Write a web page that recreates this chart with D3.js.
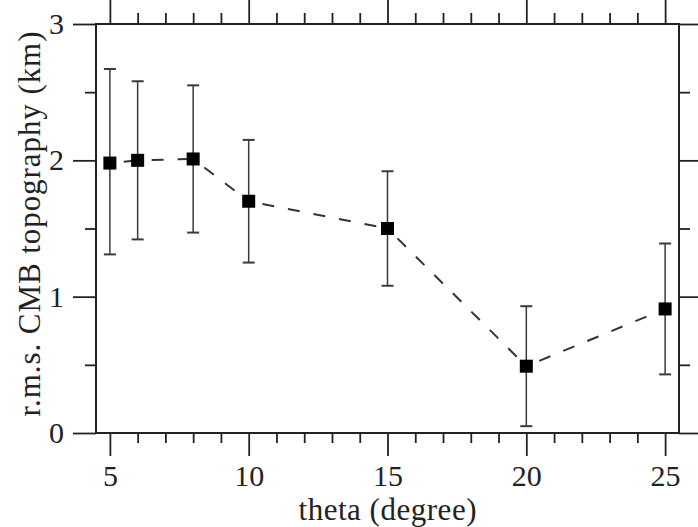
<!DOCTYPE html>
<html>
<head>
<meta charset="utf-8">
<script src="https://cdn.jsdelivr.net/npm/d3@7"></script>
<style>
  html, body { margin: 0; padding: 0; background: #fff; }
  svg { display: block; }
</style>
</head>
<body>
<script>
// Angular width theta (degrees) and r.m.s. CMB topography (km) with error bounds
const theta = [5, 6, 8, 10, 15, 20, 25];
const rms = [1.98, 2.00, 2.01, 1.70, 1.50, 0.49, 0.91];
const rmsUpper = [2.67, 2.58, 2.55, 2.15, 1.92, 0.93, 1.39];
const rmsLower = [1.31, 1.42, 1.47, 1.25, 1.08, 0.05, 0.43];

const xMajorTicks = [5, 10, 15, 20, 25];
const xMinorTicks = [6, 7, 8, 9, 11, 12, 13, 14, 16, 17, 18, 19, 21, 22, 23, 24];
const yMajorTicks = [0, 1, 2, 3];
const yMinorTicks = [0.5, 1.5, 2.5];

const W = 698, H = 527;
const frame = { left: 96, right: 679, top: 24, bottom: 433 };

const svg = d3.select("body").append("svg")
  .attr("width", W).attr("height", H);

const x = d3.scaleLinear().domain([4.5, 25.5]).range([frame.left, frame.right]);
const y = d3.scaleLinear().domain([0, 3]).range([frame.bottom, frame.top]);

const ink = "#222";
const fontFamily = "Liberation Serif";

function styleAxis(g, labelled) {
  g.attr("font-family", fontFamily).attr("font-size", 30);
  g.select(".domain").remove();
  g.selectAll(".tick line").attr("stroke", ink).attr("stroke-width", 1.8);
  g.selectAll(".tick text").attr("fill", "#222");
  if (!labelled) g.selectAll(".tick text").remove();
}

// bottom axis
svg.append("g").attr("transform", `translate(0,${frame.bottom})`)
  .call(d3.axisBottom(x).tickValues(xMajorTicks).tickSize(23).tickPadding(9).tickFormat(d3.format("d")))
  .call(g => styleAxis(g, true));
svg.append("g").attr("transform", `translate(0,${frame.bottom})`)
  .call(d3.axisBottom(x).tickValues(xMinorTicks).tickSize(10).tickFormat(""))
  .call(g => styleAxis(g, false));

// top axis
svg.append("g").attr("transform", `translate(0,${frame.top})`)
  .call(d3.axisTop(x).tickValues(xMajorTicks).tickSize(24).tickFormat(""))
  .call(g => styleAxis(g, false));
svg.append("g").attr("transform", `translate(0,${frame.top})`)
  .call(d3.axisTop(x).tickValues(xMinorTicks).tickSize(11).tickFormat(""))
  .call(g => styleAxis(g, false));

// left axis
svg.append("g").attr("transform", `translate(${frame.left},0)`)
  .call(d3.axisLeft(y).tickValues(yMajorTicks).tickSize(23).tickPadding(9).tickFormat(d3.format("d")))
  .call(g => styleAxis(g, true));
svg.append("g").attr("transform", `translate(${frame.left},0)`)
  .call(d3.axisLeft(y).tickValues(yMinorTicks).tickSize(11).tickFormat(""))
  .call(g => styleAxis(g, false));

// right axis
svg.append("g").attr("transform", `translate(${frame.right},0)`)
  .call(d3.axisRight(y).tickValues(yMajorTicks).tickSize(23).tickFormat(""))
  .call(g => styleAxis(g, false));
svg.append("g").attr("transform", `translate(${frame.right},0)`)
  .call(d3.axisRight(y).tickValues(yMinorTicks).tickSize(11).tickFormat(""))
  .call(g => styleAxis(g, false));

// plot frame
svg.append("rect")
  .attr("x", frame.left).attr("y", frame.top)
  .attr("width", frame.right - frame.left).attr("height", frame.bottom - frame.top)
  .attr("fill", "none").attr("stroke", ink).attr("stroke-width", 2);

const points = theta.map((t, i) => ({ t, v: rms[i], hi: rmsUpper[i], lo: rmsLower[i] }));

// dashed connecting segments, each starting with a gap off the marker
const segs = d3.pairs(points);
svg.append("g").selectAll("line").data(segs).join("line")
  .attr("x1", d => x(d[0].t)).attr("y1", d => y(d[0].v))
  .attr("x2", d => x(d[1].t)).attr("y2", d => y(d[1].v))
  .attr("stroke", "#333")
  .attr("stroke-width", 2)
  .attr("stroke-dasharray", "12,14")
  .attr("stroke-dashoffset", -14);

// error bars
const capHalf = 6;
const eb = svg.append("g").attr("stroke", "#3a3a3a").attr("stroke-width", 1.5);
eb.selectAll("line.stem").data(points).join("line").attr("class", "stem")
  .attr("x1", d => x(d.t)).attr("x2", d => x(d.t))
  .attr("y1", d => y(d.hi)).attr("y2", d => y(d.lo));
eb.selectAll("line.capHi").data(points).join("line").attr("class", "capHi")
  .attr("x1", d => x(d.t) - capHalf).attr("x2", d => x(d.t) + capHalf)
  .attr("y1", d => y(d.hi)).attr("y2", d => y(d.hi))
  .attr("stroke-width", 2);
eb.selectAll("line.capLo").data(points).join("line").attr("class", "capLo")
  .attr("x1", d => x(d.t) - capHalf).attr("x2", d => x(d.t) + capHalf)
  .attr("y1", d => y(d.lo)).attr("y2", d => y(d.lo))
  .attr("stroke-width", 2);

// square markers
const ms = 13;
svg.append("g").selectAll("rect").data(points).join("rect")
  .attr("x", d => x(d.t) - ms / 2).attr("y", d => y(d.v) - ms / 2)
  .attr("width", ms).attr("height", ms)
  .attr("fill", "#000");

// axis titles
svg.append("text")
  .attr("x", (frame.left + frame.right) / 2).attr("y", 520)
  .attr("text-anchor", "middle")
  .attr("textLength", 178).attr("lengthAdjust", "spacing")
  .attr("font-family", fontFamily).attr("font-size", 31).attr("fill", "#222")
  .text("theta (degree)");

svg.append("text")
  .attr("transform", `translate(40,${224}) rotate(-90)`)
  .attr("text-anchor", "middle")
  .attr("textLength", 385).attr("lengthAdjust", "spacing")
  .attr("font-family", fontFamily).attr("font-size", 31).attr("fill", "#222")
  .text("r.m.s. CMB topography (km)");
</script>
</body>
</html>
